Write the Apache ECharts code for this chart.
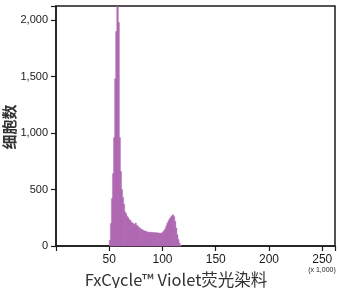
<!DOCTYPE html>
<html><head><meta charset="utf-8">
<script src="https://cdn.jsdelivr.net/npm/echarts@6/dist/echarts.min.js"></script>
<style>html,body{margin:0;padding:0;background:#fff}#c{width:339px;height:288px}</style>
</head><body><div id="c"></div>
<script>
// bin start (x 1,000), width 1
var binStarts = [50,51,52,53,54,55,56,57,58,59,60,61,62,63,64,65,66,67,68,69,70,71,72,73,74,75,76,77,78,79,80,81,82,83,84,85,86,87,88,89,90,91,92,93,94,95,96,97,98,99,100,101,102,103,104,105,106,107,108,109,110,111,112,113,114,115,116];
var counts = [50,200,420,640,960,1480,1900,2120,1980,960,660,500,430,370,300,285,262,250,232,228,208,205,192,188,202,182,176,163,160,148,146,138,136,128,130,124,122,119,123,117,121,116,119,115,118,114,115,111,113,116,126,136,152,176,202,222,240,252,266,276,262,220,160,100,58,25,8];
var yTicks = [0,500,1000,1500,2000];
var xTicks = [50,100,150,200,250];

var data = binStarts.map(function(x,i){return [x, counts[i]];});
var chart = echarts.init(document.getElementById('c'));
chart.setOption({
  animation:false,
  grid:{left:56,right:4,top:6,bottom:42,show:true,borderColor:'#1a1a1a',borderWidth:1.5},
  xAxis:{type:'value',min:0,max:262,interval:50,
    axisLine:{onZero:false,lineStyle:{color:'#1a1a1a',width:1.5}},
    axisTick:{show:true,length:5,lineStyle:{color:'#1a1a1a',width:1.2}},
    splitLine:{show:false},
    axisLabel:{color:'#1a1a1a',fontSize:12,fontFamily:'Liberation Sans',margin:8,
      formatter:function(v){return xTicks.indexOf(v)>=0?String(v):'';}}
  },
  yAxis:{type:'value',min:0,max:2125,interval:500,
    axisLine:{show:true,lineStyle:{color:'#1a1a1a',width:1.5}},
    axisTick:{show:true,length:5,lineStyle:{color:'#1a1a1a',width:1.2}},
    splitLine:{show:false},
    axisLabel:{color:'#1a1a1a',fontSize:11,fontFamily:'Liberation Sans',margin:8,
      formatter:function(v){return yTicks.indexOf(v)>=0?v.toLocaleString('en-US'):'';}}
  },
  series:[{
    type:'custom',
    data:data,
    renderItem:function(params,api){
      var x=api.value(0), v=api.value(1);
      var p0=api.coord([x,0]), p1=api.coord([x+1,v]);
      return {type:'rect',shape:{x:p0[0],y:p1[1],width:p1[0]-p0[0]+0.6,height:p0[1]-p1[1]},
        style:{fill:'#b06ab2',stroke:'#b06ab2',lineWidth:0.4}};
    }
  }],
  graphic:[
    {type:'text',x:9,y:127,rotation:Math.PI/2,
      style:{text:'细胞数',fill:'#333',font:'bold 15px "Noto Sans CJK SC"',textAlign:'center',textVerticalAlign:'middle'}},
    {type:'text',x:176,y:280,
      style:{text:'FxCycle™ Violet荧光染料',fill:'#333',font:'16.5px "Noto Sans CJK SC"',textAlign:'center',textVerticalAlign:'middle'}},
    {type:'text',x:322,y:270,
      style:{text:'(x 1,000)',fill:'#222',font:'7px "Liberation Sans"',textAlign:'center',textVerticalAlign:'middle'}}
  ]
});
</script></body></html>
